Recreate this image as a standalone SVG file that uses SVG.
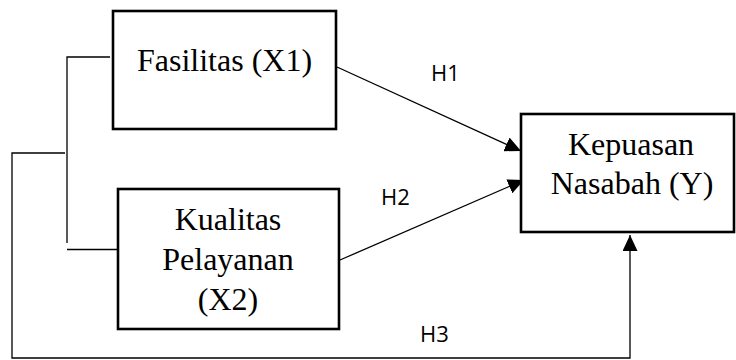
<svg xmlns="http://www.w3.org/2000/svg" width="736" height="360" viewBox="0 0 736 360">
  <style>
    .box { fill: #ffffff; stroke: #000000; stroke-width: 2.6; }
    .lbl { font-family: "Liberation Serif", "Times New Roman", serif; font-size: 32px; fill: #000000; text-anchor: middle; }
    .hyp { font-family: "Open Sans", "Liberation Sans", sans-serif; font-size: 22px; fill: #000000; }
    .wire { fill: none; stroke: #000000; stroke-width: 1.3; }
  </style>
  <defs>
    <marker id="arrow" markerUnits="userSpaceOnUse" markerWidth="17" markerHeight="15" refX="16" refY="7.5" orient="auto">
      <path d="M0,0 L16,7.5 L0,15 Z" fill="#000000"/>
    </marker>
  </defs>

  <rect width="736" height="360" fill="#ffffff"/>

  <!-- connectors -->
  <g id="connectors">
    <path class="wire" d="M110,57 H67 V243"/>
    <path class="wire" d="M67,249.5 H117"/>
    <path class="wire" d="M65,153 H12 V358 H630 V235" marker-end="url(#arrow)"/>
    <line class="wire" x1="337" y1="67" x2="521" y2="151" marker-end="url(#arrow)"/>
    <line class="wire" x1="340" y1="260" x2="524" y2="180" marker-end="url(#arrow)"/>
    <text class="hyp" x="431" y="81">H1</text>
    <text class="hyp" x="381" y="205">H2</text>
    <text class="hyp" x="420" y="342">H3</text>
  </g>

  <!-- X1 -->
  <g id="fasilitas">
    <rect class="box" x="113" y="11" width="223" height="118"/>
    <text class="lbl" x="224.5" y="71">Fasilitas (X1)</text>
  </g>

  <!-- X2 -->
  <g id="kualitas-pelayanan">
    <rect class="box" x="118" y="189" width="221" height="140"/>
    <text class="lbl" x="228" y="229.5">Kualitas</text>
    <text class="lbl" x="228" y="270">Pelayanan</text>
    <text class="lbl" x="228" y="310">(X2)</text>
  </g>

  <!-- Y -->
  <g id="kepuasan-nasabah">
    <rect class="box" x="521" y="114" width="213" height="118"/>
    <text class="lbl" x="631" y="155">Kepuasan</text>
    <text class="lbl" x="632" y="194">Nasabah (Y)</text>
  </g>
</svg>
